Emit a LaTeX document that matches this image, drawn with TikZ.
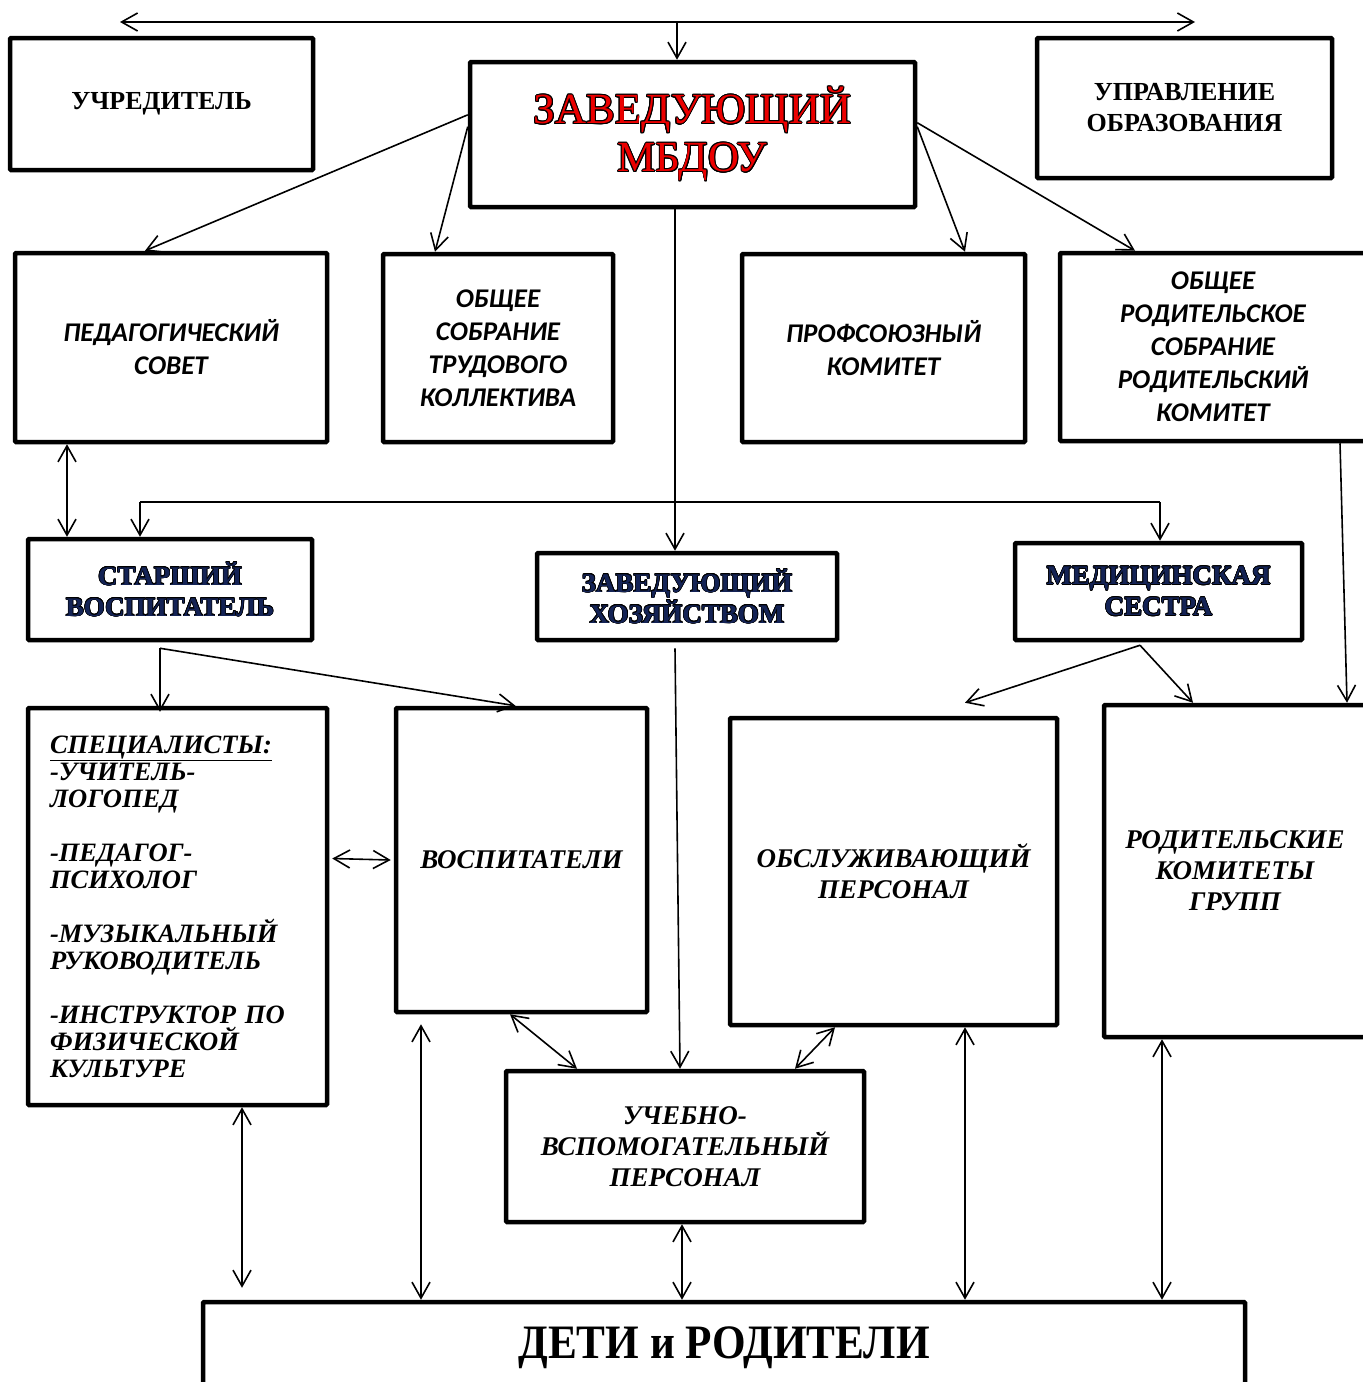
\documentclass[tikz,border=0pt]{standalone}
\usepackage{fontspec}
\setmainfont{Liberation Serif}
\newfontfamily\calfont{Carlito}
\usepackage[copies]{contour}
\usepackage{graphicx}
\usetikzlibrary{arrows.meta}

\definecolor{zavred}{RGB}{235,0,0}
\definecolor{navytxt}{RGB}{20,35,85}

\begin{document}
\begin{tikzpicture}[
			x=1pt, y=-1pt
			,box/.style={draw, line width=4.5pt, rounded corners=1pt, inner sep=0pt, align=center}
			,serif/.style={font=\fontsize{26}{31}\selectfont\bfseries}
			,cal/.style={font=\calfont\fontsize{27}{33}\selectfont\bfseries\itshape}
			,ital/.style={font=\fontsize{27}{31}\selectfont\bfseries\itshape}
			,dark/.style={font=\fontsize{27}{31}\selectfont\bfseries}
			,tip/.tip={Straight Barb[length=16pt, width=18pt, line width=1.6pt]}
			,link/.style={line width=1.6pt, -tip}
			,link2/.style={line width=1.6pt, tip-tip}
		]
			\useasboundingbox (0,0) rectangle (1363,1382);

			% top level
			\node [box, serif, minimum width=303pt, minimum height=132pt] (uchr) at (161.5,104) {УЧРЕДИТЕЛЬ};
			\node [box, minimum width=445pt, minimum height=145pt, font=\fontsize{43}{48}\selectfont] (zav) at (692.5,134.5)
				{\contourlength{0.9pt}\raisebox{-4pt}{\textcolor{zavred}{\contour{black}{ЗАВЕДУЮЩИЙ}}}\\
				 \contourlength{0.9pt}\raisebox{-4pt}{\textcolor{zavred}{\contour{black}{МБДОУ}}}};
			\node [box, serif, minimum width=295pt, minimum height=140pt] (upr) at (1184.5,108) {УПРАВЛЕНИЕ\\ОБРАЗОВАНИЯ};

			% councils
			\node [box, cal, minimum width=312pt, minimum height=189pt] (ped) at (171,347.5) {ПЕДАГОГИЧЕСКИЙ\\СОВЕТ};
			\node [box, cal, minimum width=230pt, minimum height=188pt] (obsh) at (498,348) {ОБЩЕЕ\\СОБРАНИЕ\\ТРУДОВОГО\\КОЛЛЕКТИВА};
			\node [box, cal, minimum width=283pt, minimum height=188pt] (prof) at (883.5,348) {ПРОФСОЮЗНЫЙ\\КОМИТЕТ};
			\node [box, cal, minimum width=306pt, minimum height=188pt] (rod) at (1213,347) {ОБЩЕЕ\\РОДИТЕЛЬСКОЕ\\СОБРАНИЕ\\РОДИТЕЛЬСКИЙ\\КОМИТЕТ};

			% middle level
			\node [box, dark, minimum width=284pt, minimum height=101pt] (star) at (170,589.5)
				{\contourlength{0.6pt}\textcolor{navytxt}{\contour{black}{СТАРШИЙ}}\\\contourlength{0.6pt}\textcolor{navytxt}{\contour{black}{ВОСПИТАТЕЛЬ}}};
			\node [box, dark, minimum width=300pt, minimum height=87pt] (zavh) at (687,596.5)
				{\contourlength{0.6pt}\textcolor{navytxt}{\contour{black}{ЗАВЕДУЮЩИЙ}}\\\contourlength{0.6pt}\textcolor{navytxt}{\contour{black}{ХОЗЯЙСТВОМ}}};
			\node [box, dark, minimum width=287pt, minimum height=97pt] (med) at (1158.5,591.5)
				{\contourlength{0.6pt}\textcolor{navytxt}{\contour{black}{МЕДИЦИНСКАЯ}}\\\contourlength{0.6pt}\textcolor{navytxt}{\contour{black}{СЕСТРА}}};

			% staff
			\node [box, font=\fontsize{26.5}{27}\selectfont\bfseries\itshape, align=left, text width=255pt,
				minimum width=299pt, minimum height=397pt] (spec) at (177.5,906.5)
				{\underline{СПЕЦИАЛИСТЫ:}\\-УЧИТЕЛЬ-\\ЛОГОПЕД\\[27pt]-ПЕДАГОГ-\\ПСИХОЛОГ\\[27pt]-МУЗЫКАЛЬНЫЙ\\РУКОВОДИТЕЛЬ\\[27pt]-ИНСТРУКТОР ПО\\ФИЗИЧЕСКОЙ\\КУЛЬТУРЕ};
			\node [box, ital, minimum width=251pt, minimum height=304pt] (vosp) at (521.5,860) {ВОСПИТАТЕЛИ};
			\node [box, ital, minimum width=327pt, minimum height=307pt] (obsl) at (893.5,871.5) {ОБСЛУЖИВАЮЩИЙ\\ПЕРСОНАЛ};
			\node [box, ital, minimum width=262pt, minimum height=332pt] (rkg) at (1235,871) {РОДИТЕЛЬСКИЕ\\КОМИТЕТЫ\\ГРУПП};
			\node [box, ital, minimum width=358pt, minimum height=151pt] (uvp) at (685,1146.5) {УЧЕБНО-\\ВСПОМОГАТЕЛЬНЫЙ\\ПЕРСОНАЛ};

			% bottom
			\node [box, font=\fontsize{48}{50}\selectfont\bfseries, minimum width=1042pt, minimum height=88pt, text depth=0pt] (deti) at (724,1346)
				{\raisebox{6pt}{\scalebox{0.9}[1]{ДЕТИ и РОДИТЕЛИ}}};

			% top bar
			\coordinate (tl) at (120,22);
			\coordinate (tr) at (1195,22);
			\coordinate (tm) at (677,22);
			\draw [link2] (tl) -- (tr);
			\draw [link] (tm) -- (tm |- zav.north);

			% from the head
			\draw [link] (zav.175) -- ([xshift=-26pt]ped.north);
			\draw [link] (zav.178) -- ([xshift=-63pt]obsh.north);
			\draw [link] (zav.2) -- ([xshift=81.5pt]prof.north);
			\draw [link] (zav.3) -- ([xshift=-78pt]rod.north);

			% branch line
			\coordinate (hl) at (140,502);
			\coordinate (hr) at (1160,502);
			\draw [line width=1.6pt] (hl) -- (hr);
			\draw [link] (hl) -- (hl |- star.north);
			\draw [link] (hr) -- (hr |- med.north);
			\draw [link] ([xshift=-17.5pt]zav.south) -- ([xshift=-17.5pt]zav.south |- zavh.north);
			\draw [link2] ([xshift=-104pt]ped.south) -- ([xshift=-103pt]star.north);

			% to the staff
			\draw [link] ([xshift=-10pt, yshift=-6pt]star.south) -- ([xshift=-10pt, yshift=-6pt]star.south |- spec.north);
			\draw [link] ([xshift=-10pt, yshift=-6pt]star.south) -- ([xshift=-6pt]vosp.north);
			\draw [link] ([xshift=-12pt, yshift=-6pt]zavh.south) -- ([xshift=-5pt]uvp.north);
			\draw [link] ([xshift=-18.5pt, yshift=-3pt]med.south) -- ([xshift=71.5pt, yshift=13pt]obsl.north);
			\draw [link] ([xshift=-18.5pt, yshift=-3pt]med.south) -- ([xshift=-42pt]rkg.north);
			\draw [link] ([xshift=127pt]rod.south) -- ([xshift=112pt]rkg.north);

			\draw [link2] ([yshift=48pt, xshift=3pt]spec.east) -- ([xshift=-3pt]vosp.west);
			\draw [link2] ([xshift=-11.5pt]vosp.south) -- ([xshift=-108pt]uvp.north);
			\draw [link2] ([xshift=-58.5pt]obsl.south) -- ([xshift=110pt]uvp.north);

			% to children and parents
			\draw [link2] ([xshift=64.5pt]spec.south) -- ([xshift=64.5pt, yshift=12pt]spec.south |- deti.north);
			\draw [link2] ([xshift=-100.5pt, yshift=-10pt]vosp.south) -- ([xshift=-100.5pt]vosp.south |- deti.north);
			\draw [link2] ([xshift=-3pt]uvp.south) -- ([xshift=-3pt]uvp.south |- deti.north);
			\draw [link2] ([xshift=71.5pt]obsl.south) -- ([xshift=71.5pt]obsl.south |- deti.north);
			\draw [link2] ([xshift=-73pt]rkg.south) -- ([xshift=-73pt]rkg.south |- deti.north);
		\end{tikzpicture}
\end{document}
